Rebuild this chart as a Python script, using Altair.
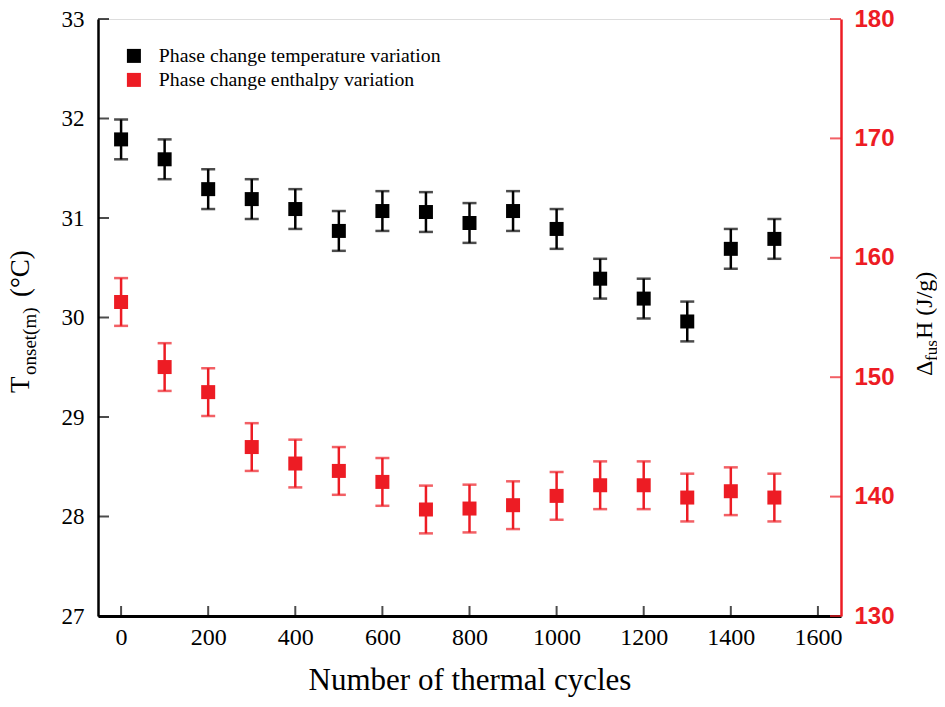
import altair as alt
import pandas as pd

# ---------------- data ----------------
cycles = [0, 100, 200, 300, 400, 500, 600, 700, 800, 900, 1000, 1100, 1200, 1300, 1400, 1500]
temp = [31.79, 31.59, 31.29, 31.19, 31.09, 30.87, 31.07, 31.06, 30.95, 31.07, 30.89, 30.39, 30.19, 29.96, 30.69, 30.79]
temp_err = [0.2, 0.2, 0.2, 0.2, 0.2, 0.2, 0.2, 0.2, 0.2, 0.2, 0.2, 0.2, 0.2, 0.2, 0.2, 0.2]
enth = [156.3, 150.85, 148.75, 144.15, 142.77, 142.15, 141.23, 138.92, 139.0, 139.28, 140.06, 140.95, 140.95, 139.92, 140.45, 139.92]
enth_err = [2.0, 2.0, 2.0, 2.0, 2.0, 2.0, 2.0, 2.0, 2.0, 2.0, 2.0, 2.0, 2.0, 2.0, 2.0, 2.0]

series_names = ["Phase change temperature variation", "Phase change enthalpy variation"]
x_ticks = [0, 200, 400, 600, 800, 1000, 1200, 1400, 1600]
left_ticks = [27, 28, 29, 30, 31, 32, 33]
right_ticks = [130, 140, 150, 160, 170, 180]

RED = "#ED1C24"
SERIF = "Liberation Serif"
W, H = 743, 597

df_t = pd.DataFrame({"c": cycles, "v": temp,
                     "lo": [a - b for a, b in zip(temp, temp_err)],
                     "hi": [a + b for a, b in zip(temp, temp_err)],
                     "s": series_names[0]})
df_e = pd.DataFrame({"c": cycles, "v": enth,
                     "lo": [a - b for a, b in zip(enth, enth_err)],
                     "hi": [a + b for a, b in zip(enth, enth_err)],
                     "s": series_names[1]})

xscale = alt.Scale(domain=[-53, 1653], nice=False, zero=False)
xaxis = alt.Axis(values=x_ticks, format="d", title="Number of thermal cycles", ticks=False,
                 grid=False, domainColor="black", domainWidth=3, labelFont=SERIF,
                 labelFontSize=24, labelColor="black", labelPadding=9, titleFont=SERIF,
                 titleFontSize=31, titleFontWeight="normal", titleColor="black",
                 titlePadding=16, labelFlush=False)
ys_t = alt.Scale(domain=[27, 33], nice=False, zero=False)
ys_e = alt.Scale(domain=[130, 180], nice=False, zero=False)
yaxis_t = alt.Axis(orient="left", values=left_ticks, title=None, ticks=False, grid=False,
                   domainColor="black", domainWidth=2.5, labelFont=SERIF, labelFontSize=23,
                   labelColor="black", labelPadding=14, labelFlush=False)
yaxis_e = alt.Axis(orient="right", values=right_ticks, title=None, ticks=False, grid=False,
                   domainColor=RED, domainWidth=2.5, labelFont="Liberation Sans",
                   labelFontWeight="bold", labelFontSize=24, labelColor=RED, labelPadding=13,
                   labelFlush=False)

cscale = alt.Scale(domain=series_names, range=["black", RED])
legend = alt.Legend(orient="none", legendX=26, legendY=27, title=None, symbolType="square",
                    symbolSize=196, symbolStrokeWidth=0, symbolOpacity=1, labelFont=SERIF,
                    labelFontSize=19.8, labelColor="black", labelOffset=15, rowPadding=3,
                    padding=0, labelLimit=0)

X = alt.X("c:Q", scale=xscale, axis=xaxis)


def group(df, yscale, yaxis, color, ticks, tick_x):
    base = alt.Chart(df)
    bars = base.mark_rule(color=color, strokeWidth=2.5).encode(
        x=X, y=alt.Y("lo:Q", scale=yscale, axis=yaxis), y2="hi:Q")
    cap_lo = base.mark_tick(color=color, thickness=2.5, size=14, orient="horizontal").encode(
        x=X, y=alt.Y("lo:Q", scale=yscale, axis=yaxis))
    cap_hi = base.mark_tick(color=color, thickness=2.5, size=14, orient="horizontal").encode(
        x=X, y=alt.Y("hi:Q", scale=yscale, axis=yaxis))
    pts = base.mark_square(size=196, opacity=1, strokeWidth=0).encode(
        x=X, y=alt.Y("v:Q", scale=yscale, axis=yaxis),
        color=alt.Color("s:N", scale=cscale, legend=legend))
    tk = alt.Chart(pd.DataFrame({"t": ticks})).mark_tick(
        color=color, thickness=2, size=11, orient="horizontal").encode(
        y=alt.Y("t:Q", scale=yscale, axis=yaxis), x=alt.value(tick_x))
    return alt.layer(tk, bars, cap_lo, cap_hi, pts)


g_t = group(df_t, ys_t, yaxis_t, "black", left_ticks, 5.5)
g_e = group(df_e, ys_e, yaxis_e, RED, right_ticks, W - 5.5)

xt = alt.Chart(pd.DataFrame({"c": x_ticks})).mark_tick(
    color="black", thickness=2, size=10, orient="vertical").encode(
    x=X, y=alt.value(H - 5))


def seg(txt, size, x, y, dx=0, dy=0):
    return alt.Chart(pd.DataFrame({"t": [txt]})).mark_text(
        angle=270, align="left", baseline="alphabetic", font=SERIF, fontSize=size,
        color="black", dx=dx, dy=dy).encode(text="t:N", x=alt.value(x), y=alt.value(y))


# left axis title: T_onset(m) (°C)
lx, ly = -69, 374
left_title = [seg("T", 27, lx, ly), seg("onset(m)", 19, lx, ly, dx=18, dy=7),
              seg("(°C)", 27, lx, ly, dx=96)]
# right axis title: Δ_fus H (J/g)
rx, ry = 834, 357
right_title = [seg("Δ", 24, rx, ry), seg("fus", 17, rx, ry, dx=15, dy=5),
               seg("H (J/g)", 24, rx, ry, dx=37)]

main = alt.layer(g_t, g_e).resolve_scale(y="independent")
chart = alt.layer(main, xt, *left_title, *right_title).properties(
    width=W, height=H,
    autosize=alt.AutoSizeParams(type="none"),
    padding={"left": 90, "top": 11, "right": 96, "bottom": 83},
).configure_view(stroke="black", strokeWidth=2.5).configure(background="white")

chart.save("out.html", embed_options={"renderer": "svg", "actions": False})
